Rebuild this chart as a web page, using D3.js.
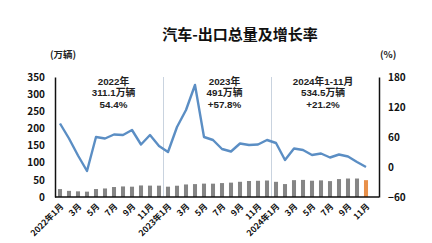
<!DOCTYPE html>
<html><head><meta charset="utf-8">
<script src="https://cdn.jsdelivr.net/npm/d3@7"></script>
<style>
html,body{margin:0;padding:0;background:#fff;}
svg{display:block;font-family:"Noto Sans CJK SC","Noto Sans",sans-serif;}
</style></head>
<body><svg id="c" width="432" height="243"></svg>
<script>
const months = ["2022年1月","2月","3月","4月","5月","6月","7月","8月","9月","10月","11月","12月",
"2023年1月","2月","3月","4月","5月","6月","7月","8月","9月","10月","11月","12月",
"2024年1月","2月","3月","4月","5月","6月","7月","8月","9月","10月","11月"];
const exportVolume = [23.1,17.9,16.5,15.6,23.2,24.9,29.1,30.8,30.1,33.7,33.2,33.1,
30.1,32.9,36.6,37.6,39.0,38.9,40.6,41.9,44.4,46.7,47.3,48.1,
44.3,37.7,49.1,49.9,47.5,48.5,46.3,52.3,53.9,53.9,49.1];
const growthRate = [87,57,23,-8,60,57,65,64,74,45,64,42,
30,80,114,164,60,54,36,31,47,44,45,54,
48,14,37,34,24,27,19,25,21,10,0];
const leftTicks = [0,50,100,150,200,250,300,350];
const rightTicks = [-60,0,60,120,180];
const noteYears = ["2022年","2023年","2024年1-11月"];
const noteVolumes = ["311.1万辆","491万辆","534.5万辆"];
const noteGrowth = ["54.4%","+57.8%","+21.2%"];
const noteRanges = [[0,11],[12,23],[24,34]];
const title = "汽车-出口总量及增长率";

const svg = d3.select("#c");
const L = 55, R = 379, T = 77, B = 197;
const noteShift = [4,7,2];
const x = d3.scaleBand().domain(d3.range(months.length)).range([55.5,370.5]).paddingInner(0.55).paddingOuter(0.275);
const yL = d3.scaleLinear().domain([0,350]).range([B,T]);
const yR = d3.scaleLinear().domain([-60,180]).range([B,T]);
const cx = i => x(i) + x.bandwidth()/2;

svg.append("text").attr("x",240).attr("y",40).attr("text-anchor","middle")
  .attr("font-size",15).attr("font-weight","bold").attr("fill","#111").text(title);
svg.append("text").attr("x",50).attr("y",58).attr("font-size",9.5).attr("font-weight","bold").attr("fill","#222").text("(万辆)");
svg.append("text").attr("x",380).attr("y",58).attr("font-size",9.5).attr("font-weight","bold").attr("fill","#222").text("(%)");

// dividers
[11,23].forEach(i=>{
  const xx = (cx(i)+cx(i+1))/2;
  svg.append("line").attr("x1",xx).attr("x2",xx).attr("y1",T).attr("y2",B)
    .attr("stroke","#c9d3df").attr("stroke-width",1);
});

// bars
svg.append("g").selectAll("rect").data(exportVolume).join("rect")
  .attr("x",(d,i)=>x(i)).attr("width",x.bandwidth())
  .attr("y",d=>yL(d)).attr("height",d=>B-yL(d))
  .attr("fill",(d,i)=> i===exportVolume.length-1 ? "#e8904a" : "#858585");

// line
svg.append("path").datum(growthRate)
  .attr("d", d3.line().x((d,i)=>cx(i)).y(d=>yR(d)))
  .attr("fill","none").attr("stroke","#5b8ec4").attr("stroke-width",2.4).attr("stroke-linejoin","round");

// notes
noteRanges.forEach((r,k)=>{
  const mx = (cx(r[0])+cx(r[1]))/2 + noteShift[k];
  [noteYears[k],noteVolumes[k],noteGrowth[k]].forEach((s,j)=>{
    svg.append("text").attr("x",mx).attr("y",85 + j*11.3).attr("text-anchor","middle")
      .attr("font-family","\"Liberation Sans\",\"Noto Sans CJK SC\",sans-serif")
      .attr("font-size",9.8).attr("font-weight","bold").attr("fill","#222").text(s);
  });
});

// axes
const gl = svg.append("g").attr("transform",`translate(${L},0)`)
  .call(d3.axisLeft(yL).tickValues(leftTicks).tickSize(0).tickSizeOuter(0).tickPadding(10));
const gr = svg.append("g").attr("transform",`translate(${R},0)`)
  .call(d3.axisRight(yR).tickValues(rightTicks).tickSize(0).tickSizeOuter(0).tickPadding(9));
[gl,gr].forEach(g=>{
  g.select(".domain").attr("stroke","#111").attr("stroke-width",1.5);
  g.selectAll("text").attr("font-size",10).attr("font-weight","bold").attr("fill","#111")
   .attr("font-family","\"Noto Sans CJK SC\",sans-serif");
});
svg.append("line").attr("x1",L).attr("x2",R).attr("y1",B).attr("y2",B).attr("stroke","#111").attr("stroke-width",1.5);

const gx = svg.append("g").attr("transform",`translate(0,${B})`)
  .call(d3.axisBottom(x).tickValues(d3.range(0,months.length,2)).tickFormat(i=>months[i]).tickSize(0));
gx.select(".domain").remove();
gx.selectAll("text").attr("font-size",8.5).attr("font-weight","bold").attr("fill","#111")
  .attr("font-family","\"Noto Sans CJK SC\",sans-serif")
  .attr("text-anchor","end").attr("x",0).attr("y",0).attr("dy","0.35em")
  .attr("transform","translate(2,8) rotate(-45)");
</script></body></html>
